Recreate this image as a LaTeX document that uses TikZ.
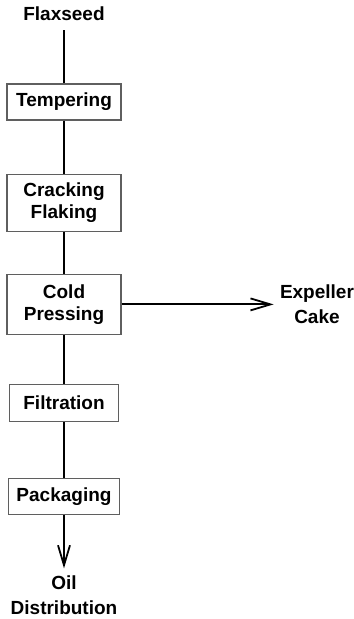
\documentclass[tikz,border=0pt]{standalone}
\usepackage{fontspec}
\setmainfont{Liberation Sans}
\usetikzlibrary{arrows.meta,positioning}
\definecolor{boxgray}{RGB}{95,95,95}
\tikzset{
  process/.style={rectangle, draw=boxgray, line width=0.6pt, fill=white,
                  minimum width=57pt, minimum height=18pt, inner sep=2pt, align=center,
                  font=\fontsize{9.5}{11}\selectfont\bfseries},
  stream/.style={inner sep=3pt, align=center, font=\fontsize{9.5}{12.5}\selectfont\bfseries},
  flow/.style={line width=0.9pt, black},
  flowarrow/.style={flow, -{Straight Barb[length=10pt,width=6pt]}},
}
\begin{document}
\begin{tikzpicture}
\useasboundingbox (0,0) rectangle (176.5pt,-309.5pt);
\node[process] (temper) at (32pt,-51pt) {Tempering};
\node[process, minimum height=28.5pt, below=26.5pt of temper] (crack) {Cracking\\Flaking};
\node[process, minimum height=30pt, below=21pt of crack] (press) {Cold\\Pressing};
\node[process, minimum width=54.5pt, minimum height=18.5pt, below=24.5pt of press] (filter) {Filtration};
\node[process, minimum width=55.5pt, below=28pt of filter] (pack) {Packaging};
\node[stream, above=28pt of temper] (flax) {Flaxseed};
\node[stream, right=76pt of press] (cake) {Expeller\\Cake};
\node[stream, below=27pt of pack] (dist) {Oil\\Distribution};
\draw[flow, shorten <=1.5pt] (flax) -- (temper);
\draw[flow] (temper) -- (crack);
\draw[flow] (crack) -- (press);
\draw[flow] (press) -- (filter);
\draw[flow] (filter) -- (pack);
\draw[flowarrow] (press) -- (cake);
\draw[flowarrow, shorten >=0.5pt] (pack) -- (dist);
\end{tikzpicture}
\end{document}
